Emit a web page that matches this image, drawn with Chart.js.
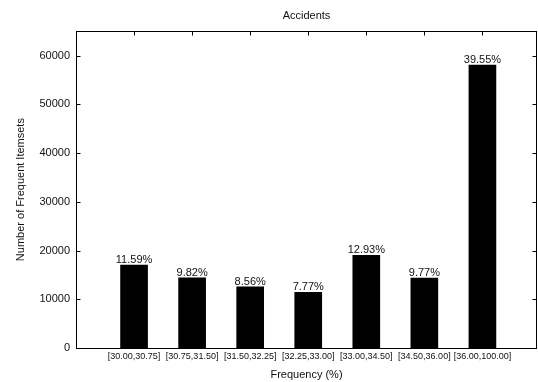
<!DOCTYPE html>
<html>
<head>
<meta charset="utf-8">
<script src="https://cdn.jsdelivr.net/npm/chart.js@4.4.1/dist/chart.umd.min.js"></script>
<style>
  html, body { margin: 0; padding: 0; background: #fff; }
  #wrap { width: 538px; height: 382px; }
</style>
</head>
<body>
<div id="wrap"><canvas id="chart"></canvas></div>
<script>
// 区間ラベル
const categories = ['[30.00,30.75]', '[30.75,31.50]', '[31.50,32.25]', '[32.25,33.00]',
  '[33.00,34.50]', '[34.50,36.00]', '[36.00,100.00]'];
// 頻出アイテム集合の数
const itemsetCounts = [17020, 14420, 12570, 11410, 18990, 14350, 58070];
// 棒の上の割合 (%)
const shares = [11.59, 9.82, 8.56, 7.77, 12.93, 9.77, 39.55];
// y 軸目盛り
const yTicks = [0, 10000, 20000, 30000, 40000, 50000, 60000];

const textColor = '#111';
const fontFamily = '"Liberation Sans", Arial, Helvetica, sans-serif';

// 枠と内向きの目盛り
const framePlugin = {
  id: 'frame',
  afterDatasetsDraw(chart) {
    const ctx = chart.ctx;
    const area = chart.chartArea;
    const l = Math.floor(area.left) + 0.5;
    const r = Math.floor(area.right) - 0.5;
    const t = Math.floor(area.top) + 0.5;
    const b = Math.floor(area.bottom) + 0.5;
    const len = 4;
    ctx.save();
    ctx.strokeStyle = '#000';
    ctx.lineWidth = 1;
    ctx.strokeRect(l, t, r - l, b - t);
    ctx.beginPath();
    const yScale = chart.scales.y;
    yScale.ticks.forEach(function(tick) {
      const py = Math.round(yScale.getPixelForValue(tick.value)) + 0.5;
      ctx.moveTo(l, py); ctx.lineTo(l + len, py);
      ctx.moveTo(r, py); ctx.lineTo(r - len, py);
    });
    const xScale = chart.scales.x;
    xScale.ticks.forEach(function(tick) {
      const px = Math.round(xScale.getPixelForValue(tick.value)) + 0.5;
      ctx.moveTo(px, t); ctx.lineTo(px, t + len);
    });
    ctx.stroke();

    // 棒の上に割合を表示
    ctx.fillStyle = textColor;
    ctx.font = '11px ' + fontFamily;
    ctx.textAlign = 'center';
    ctx.textBaseline = 'alphabetic';
    chart.getDatasetMeta(0).data.forEach(function(bar, i) {
      ctx.fillText(shares[i].toFixed(2) + '%', bar.x, bar.y - 2);
    });
    ctx.restore();
  }
};

new Chart(document.getElementById('chart').getContext('2d'), {
  type: 'bar',
  data: {
    datasets: [{
      data: itemsetCounts.map(function(v, i) { return { x: i, y: v }; }),
      backgroundColor: '#000',
      borderWidth: 0,
      barThickness: 27,
    }],
  },
  options: {
    responsive: true,
    maintainAspectRatio: false,
    animation: false,
    layout: { padding: { left: 0, right: 1, top: 0, bottom: 0 } },
    plugins: {
      legend: { display: false },
      tooltip: { enabled: false },
      title: {
        display: true,
        text: 'Accidents',
        fullSize: false,
        color: textColor,
        font: { family: fontFamily, size: 11, weight: 'normal', lineHeight: 1.2 },
        padding: { top: 9, bottom: 9 },
      },
    },
    scales: {
      x: {
        type: 'linear',
        offset: false,
        min: -1,
        max: 6.94,
        grid: { display: false, drawTicks: false, offset: false },
        border: { display: false },
        afterBuildTicks: function(scale) {
          scale.ticks = categories.map(function(c, i) { return { value: i }; });
        },
        afterFit: function(scale) { scale.height = 34; },
        ticks: {
          autoSkip: false,
          maxRotation: 0,
          padding: 3,
          color: textColor,
          font: { family: fontFamily, size: 9 },
          callback: function(value) { return categories[value]; },
        },
        title: {
          display: true,
          text: 'Frequency (%)',
          color: textColor,
          font: { family: fontFamily, size: 11, lineHeight: 1.2 },
          padding: { top: 0, bottom: 0 },
        },
      },
      y: {
        min: 0,
        max: 65000,
        grid: { display: false, drawTicks: false },
        border: { display: false },
        afterBuildTicks: function(scale) {
          scale.ticks = yTicks.map(function(v) { return { value: v }; });
        },
        afterFit: function(scale) { scale.width = 76; },
        ticks: {
          padding: 6,
          color: textColor,
          font: { family: fontFamily, size: 11 },
          callback: function(value) { return String(value); },
        },
        title: {
          display: true,
          text: 'Number of Frequent Itemsets',
          color: textColor,
          font: { family: fontFamily, size: 11, lineHeight: 1.2 },
          padding: { top: 14, bottom: 0 },
        },
      },
    },
  },
  plugins: [framePlugin],
});
</script>
</body>
</html>
